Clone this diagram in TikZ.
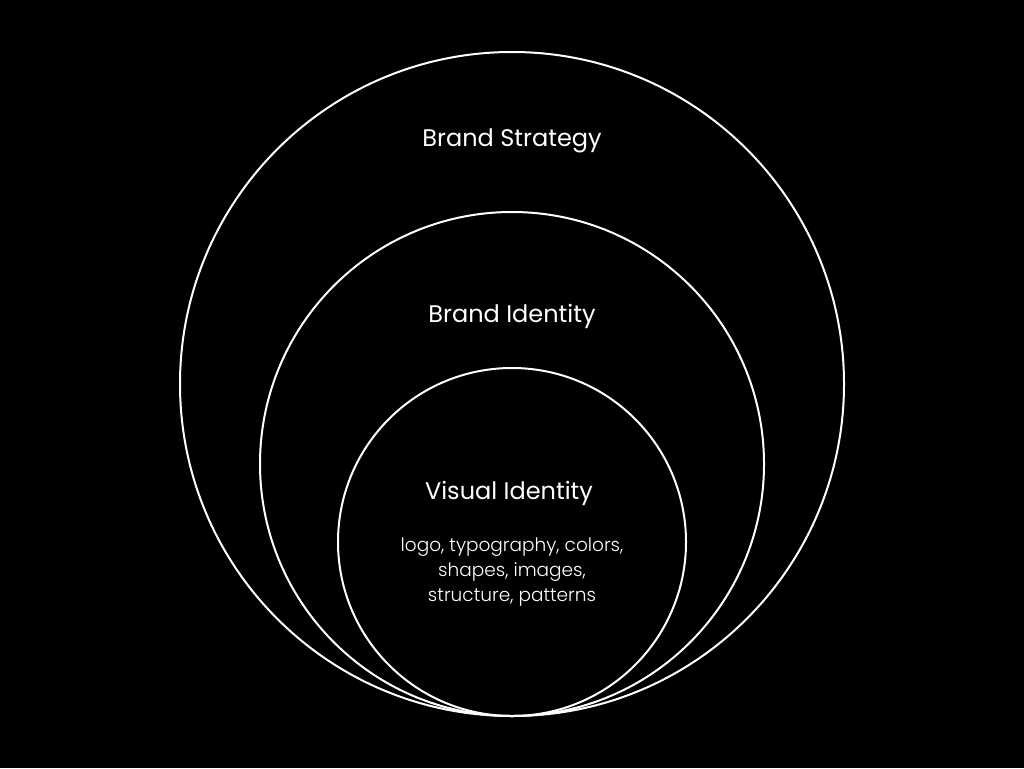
\documentclass[tikz,border=0pt]{standalone}
\usepackage{fontspec}
\setmainfont{Poppins}
\newfontfamily\poplight{Poppins Light}
\begin{document}
\begin{tikzpicture}[x=1pt,y=-1pt,
  ring/.style={draw=white,line width=2pt},
  title/.style={text=white,anchor=base,inner sep=0pt,font=\fontsize{24}{28}\selectfont},
  detail/.style={text=white,anchor=base,inner sep=0pt,font=\poplight\fontsize{18.5}{24}\selectfont}]
\fill[black] (0,0) rectangle (1024,768);
\useasboundingbox (0,0) rectangle (1024,768);
\node[ring,circle,minimum size=664pt,inner sep=0pt] (outer) at (512,384) {};
\node[ring,circle,minimum size=504pt,inner sep=0pt] (middle) at (512,464) {};
\node[ring,circle,minimum size=348pt,inner sep=0pt] (inner) at (512,542) {};
\node[title] (strategy) at (512,146) {Brand Strategy};
\node[title] (identity) at (512,322) {Brand Identity};
\node[title] (visual) at (509,499) {Visual Identity};
\node[detail] (d1) at (512,551) {logo, typography, colors,};
\node[detail] (d2) at (512,576) {shapes, images,};
\node[detail] (d3) at (512,601) {structure, patterns};
\end{tikzpicture}
\end{document}
